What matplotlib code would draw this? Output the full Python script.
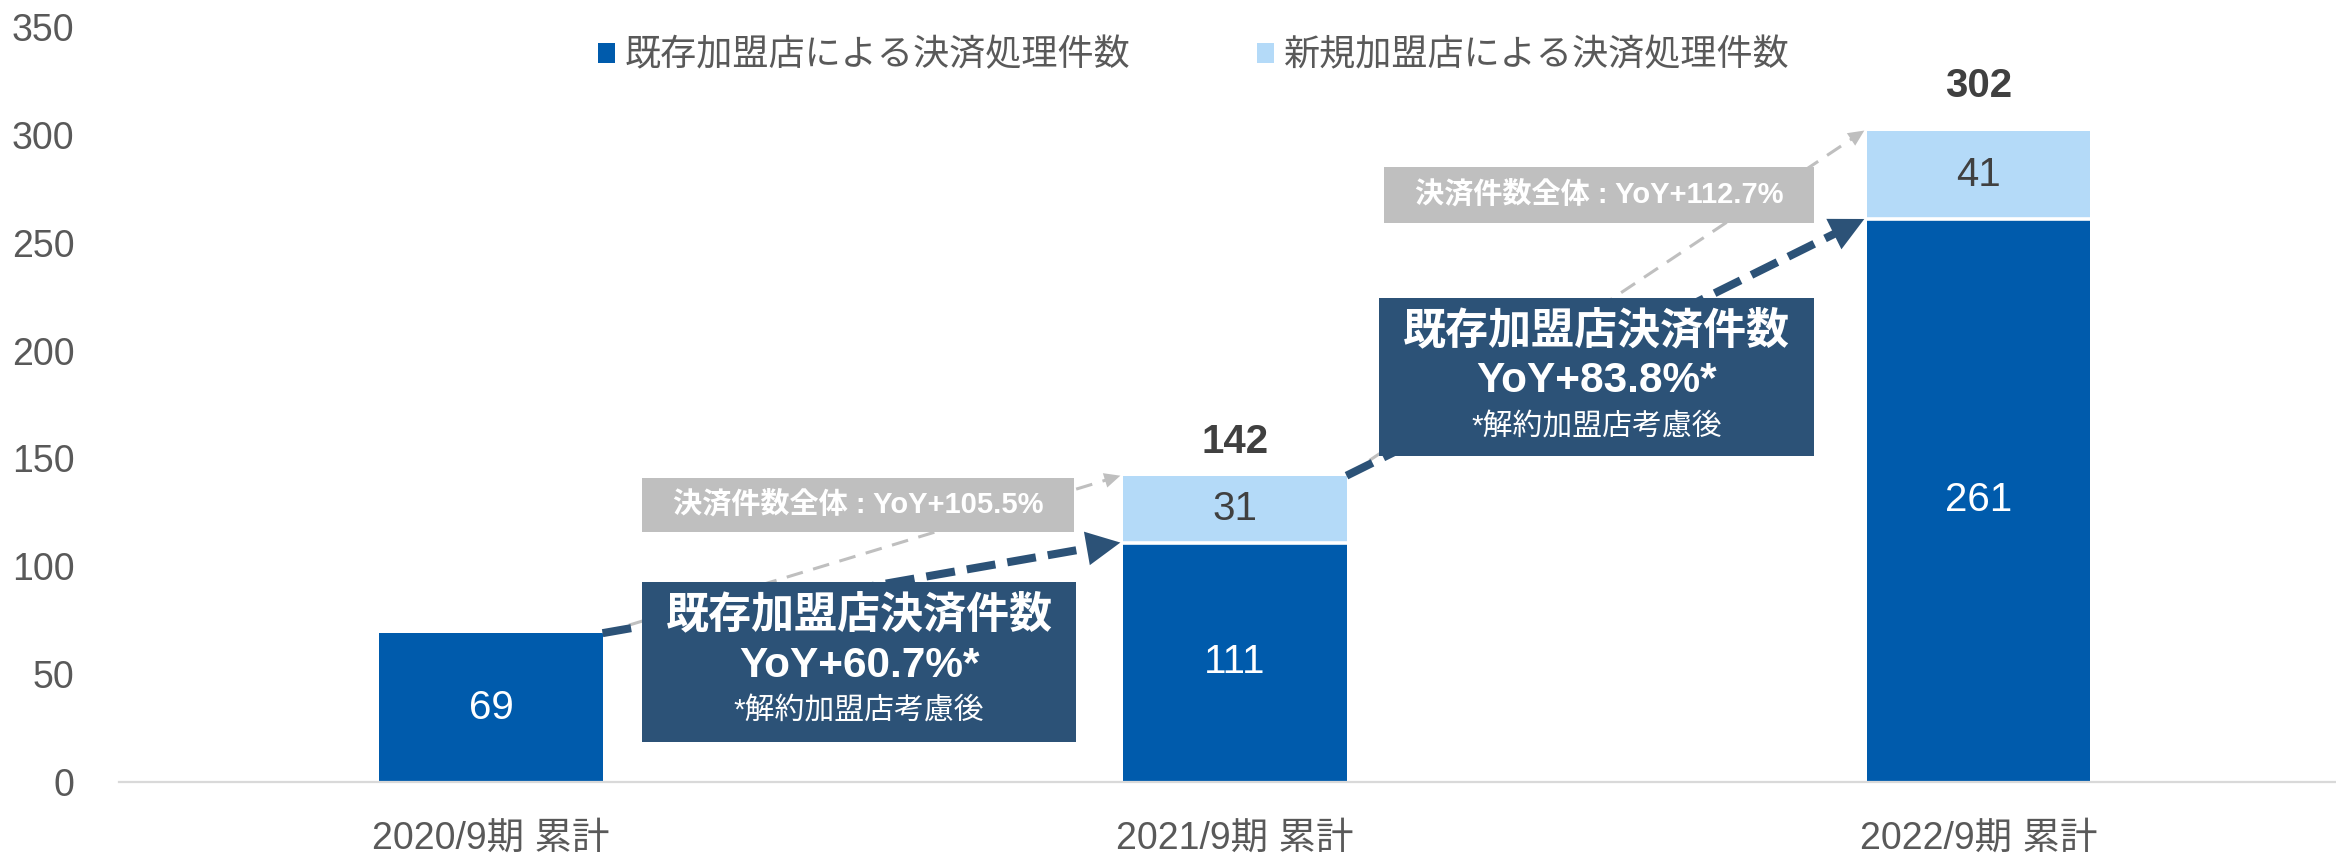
import matplotlib
matplotlib.use('Agg')
import matplotlib.pyplot as plt
from matplotlib.patches import Rectangle, Polygon
import numpy as np

# ---------------- data ----------------
categories = ['2020/9期 累計', '2021/9期 累計', '2022/9期 累計']
existing = [69, 111, 261]
new = [0, 31, 41]
totals = [69, 142, 302]
series_names = ['既存加盟店による決済処理件数', '新規加盟店による決済処理件数']
yticks = [0, 50, 100, 150, 200, 250, 300, 350]
total_yoy = ['決済件数全体 : YoY+105.5%', '決済件数全体 : YoY+112.7%']
existing_yoy = ['YoY+60.7%*', 'YoY+83.8%*']
box_title = '既存加盟店決済件数'
box_note = '*解約加盟店考慮後'

# ---------------- style ----------------
C_DARK = '#005BAC'
C_LIGHT = '#B4DAF8'
C_BOX = '#2C5277'
C_GRAY = '#BFBFBF'
C_TEXT = '#404040'
C_TICK = '#595959'

plt.rcParams['font.family'] = ['Liberation Sans', 'Noto Sans CJK JP', 'DejaVu Sans']

W, H, DPI = 2336, 855, 100
fig = plt.figure(figsize=(W / DPI, H / DPI), dpi=DPI)
ax = fig.add_axes([119 / W, 1 - 782 / H, 1 - 119 / W, 755 / H])

x = np.arange(len(categories))
bw = 0.3
ax.set_xlim(-0.5, 2.48)
ax.set_ylim(0, 350)

b1 = ax.bar(x, existing, bw, color=C_DARK, linewidth=0, zorder=2)
b2 = ax.bar(x, new, bw, bottom=existing, color=C_LIGHT, linewidth=0, zorder=2)
for i in range(len(x)):
    if new[i] > 0:
        ax.hlines(existing[i], x[i] - bw / 2, x[i] + bw / 2, color='white', lw=2.6, zorder=2.5)

# value labels
total_label_offsets = [24, 24, 32]  # points above bar top
for i in range(len(x)):
    ax.text(x[i], existing[i] / 2, str(existing[i]), ha='center', va='center',
            color='white', fontsize=29, zorder=6)
    if new[i] > 0:
        ax.text(x[i], existing[i] + new[i] / 2, str(new[i]), ha='center', va='center',
                color=C_TEXT, fontsize=29, zorder=6)
        ax.annotate(str(totals[i]), (x[i], totals[i]), xytext=(0, total_label_offsets[i]),
                    textcoords='offset points', ha='center', va='center',
                    color=C_TEXT, fontsize=29, fontweight='bold', zorder=6)

# axes styling
for s in ['top', 'left', 'right']:
    ax.spines[s].set_visible(False)
ax.spines['bottom'].set_color('#D9D9D9')
ax.spines['bottom'].set_linewidth(1.6)
ax.set_yticks(yticks)
ax.set_xticks(x, categories)
ax.tick_params(axis='y', length=0, pad=32, labelsize=27, labelcolor=C_TICK)
ax.tick_params(axis='x', length=0, pad=28, labelsize=27, labelcolor=C_TICK)


def dashed_arrow(p0, p1, color, lw, dash, head_len, head_w, z):
    T = ax.transData
    Ti = T.inverted()
    P0 = T.transform(p0)
    P1 = T.transform(p1)
    d = P1 - P0
    L = np.hypot(*d)
    u = d / L
    n = np.array([-u[1], u[0]])
    Pe = P1 - u * head_len * 0.8
    e = Ti.transform(Pe)
    ax.plot([p0[0], e[0]], [p0[1], e[1]], color=color, lw=lw,
            linestyle=(0, dash), solid_capstyle='butt', dash_capstyle='butt', zorder=z)
    base = P1 - u * head_len
    tri = np.array([P1, base + n * head_w / 2, base - n * head_w / 2])
    ax.add_patch(Polygon(Ti.transform(tri), closed=True, facecolor=color,
                         edgecolor='none', zorder=z))


for i in range(len(x) - 1):
    start = (x[i] + bw / 2, totals[i])
    dashed_arrow(start, (x[i + 1] - bw / 2 - 0.004, totals[i + 1]), C_GRAY, 2.2, (5.5, 3.5), 16, 15, 3)
    dashed_arrow(start, (x[i + 1] - bw / 2 - 0.004, existing[i + 1]), C_BOX, 5.8, (3.6, 1.5), 34, 34, 4)

# annotation boxes (layout positions in data units)
gray_boxes = [(0.203, 116.0, 0.580, 25.0), (1.2005, 259.3, 0.5775, 26.0)]
dark_boxes = [(0.203, 18.6, 0.584, 74.2), (1.194, 151.2, 0.584, 73.3)]
line_off = [-15.8, -38.8, -60.3]

for i in range(2):
    gx, gy, gw, gh = gray_boxes[i]
    ax.add_patch(Rectangle((gx, gy), gw, gh, facecolor=C_GRAY, edgecolor='none', zorder=5))
    ax.text(gx + gw / 2, gy + gh / 2, total_yoy[i], ha='center', va='center',
            color='white', fontsize=21, fontweight='bold', zorder=6)
    dx, dy, dw, dh = dark_boxes[i]
    ax.add_patch(Rectangle((dx, dy), dw, dh, facecolor=C_BOX, edgecolor='none', zorder=5))
    top = dy + dh
    cx = dx + dw / 2
    ax.text(cx, top + line_off[0], box_title, ha='center', va='center',
            color='white', fontsize=31, fontweight='bold', zorder=6)
    ax.text(cx, top + line_off[1], existing_yoy[i], ha='center', va='center',
            color='white', fontsize=30.5, fontweight='bold', zorder=6)
    ax.text(cx, top + line_off[2], box_note, ha='center', va='center',
            color='white', fontsize=21.5, zorder=6)

# legend
fig.legend(handles=[b1, b2], labels=series_names, loc='center',
           bbox_to_anchor=(0.511, 0.9345), ncol=2, frameon=False, fontsize=26,
           handlelength=0.47, handleheight=0.47, handletextpad=0.28,
           columnspacing=3.5, borderpad=0, labelcolor=C_TICK)

fig.savefig('out.png', dpi=DPI)
